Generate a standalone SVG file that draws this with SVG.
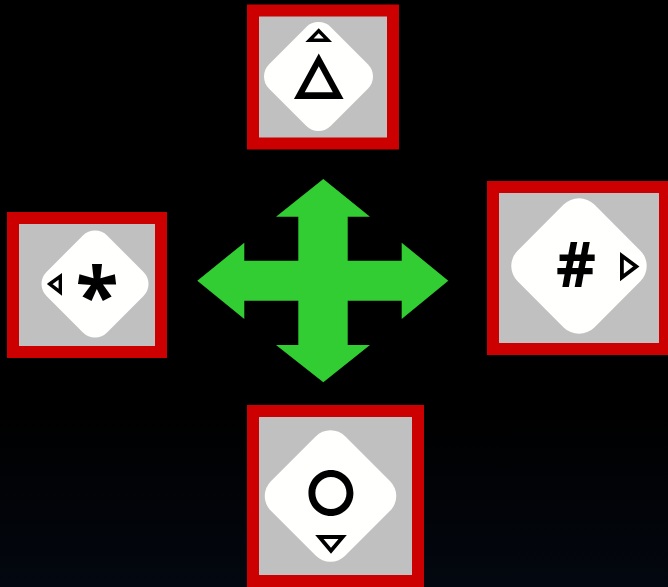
<svg xmlns="http://www.w3.org/2000/svg" width="668" height="587" viewBox="0 0 668 587">
<defs>
<linearGradient id="bg" x1="0" y1="0" x2="0" y2="1">
<stop offset="0" stop-color="#000000"/>
<stop offset="0.7" stop-color="#000000"/>
<stop offset="1" stop-color="#03070f"/>
</linearGradient>
</defs>
<style>
.frame{fill:#c0c0c0;stroke:#cc0000;stroke-width:12}
.dia{fill:#fffffd}
.sym{font-family:Inter,"DejaVu Sans",sans-serif;font-weight:bold;fill:#000;text-anchor:middle}
.sym2{font-family:"Open Sans","Noto Sans",sans-serif;font-weight:bold;fill:#000;text-anchor:middle}
.tri{fill:none;stroke:#000;stroke-width:3.4;stroke-linejoin:miter}
.move{fill:#32cd32}
</style>
<rect width="668" height="587" fill="url(#bg)"/>
<g id="connectors">
<polygon class="move" points="323.3,179 370,216.7 347.7,216.7 347.7,260.7 401.7,260.7 401.7,242.7 448.3,280.7 401.7,319 401.7,300.7 347.7,300.7 347.7,345 370,345 323.3,382.3 276,345 298.3,345 298.3,300.7 244.3,300.7 244.3,319 197.3,280.7 244.3,242.7 244.3,260.7 298.3,260.7 298.3,216.7 276,216.7"/>
</g>
<g id="node-top">
<rect class="frame" x="253" y="10.5" width="140" height="133"/>
<rect class="dia" x="-43.65" y="-43.65" width="87.3" height="87.3" rx="17.5" transform="translate(318.5 76.5) rotate(45)"/>
<polygon class="tri" points="318.7,30.8 328,40.3 309.4,40.3"/>
<text class="sym" x="0" y="0" font-size="59" transform="translate(318.7 98.5) scale(0.9 1)">△</text>
</g>
<g id="node-left">
<rect class="frame" x="13" y="218" width="148" height="134"/>
<rect class="dia" x="-42.85" y="-42.85" width="85.7" height="85.7" rx="17.1" transform="translate(95 284) rotate(45)"/>
<polygon class="tri" points="49.7,284 60.3,276.3 60.3,292.2"/>
<text class="sym2" x="97" y="324" font-size="79">*</text>
</g>
<g id="node-right">
<rect class="frame" x="493" y="187" width="172" height="162"/>
<rect class="dia" x="-54.25" y="-54.25" width="108.5" height="108.5" rx="21.7" transform="translate(579 266) rotate(45)"/>
<polygon class="tri" points="636.3,266.5 621.9,255.8 621.9,277.5" style="stroke-width:3.8"/>
<text class="sym2" x="576" y="287" font-size="62">#</text>
</g>
<g id="node-bottom">
<rect class="frame" x="253" y="411" width="165" height="170"/>
<rect class="dia" x="-52.65" y="-52.65" width="105.3" height="105.3" rx="21" transform="translate(330.5 496) rotate(45)"/>
<polygon class="tri" points="319.3,537 342.7,537 331,550.8" style="stroke-width:3.8"/>
<text class="sym" x="331" y="515" font-size="60">○</text>
</g>
</svg>
